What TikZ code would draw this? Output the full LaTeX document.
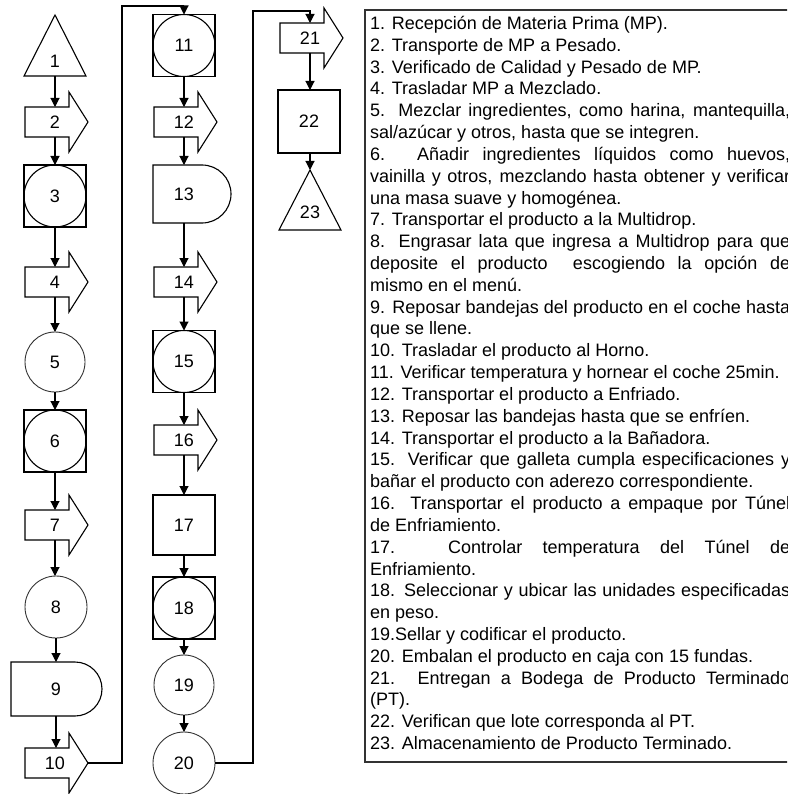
\documentclass[tikz,border=0pt]{standalone}
\usepackage{fontspec}
\setmainfont{Liberation Sans}
\usetikzlibrary{arrows.meta}
\tikzset{
  shp/.style={draw=black, line width=1.1pt},
  thinshp/.style={draw=black!80, line width=0.9pt},
  lbl/.style={font=\fontsize{18}{20}\selectfont, inner sep=0pt, outer sep=0pt},
  arr/.style={line width=1.1pt, -{Triangle[length=9pt,width=9pt]}},
  txt/.style={font=\fontsize{18}{21.8}\selectfont, inner sep=0pt, anchor=base west},
}
\newcommand\jl[1]{\makebox[420pt][s]{#1}}
\newcommand\bigarrow[4]{%
  \node[lbl,minimum width=44pt,minimum height=30pt] (#1) at (#2,#3) {#4};
  \draw[shp] (#2-30,#3-15) -- ++(44,0) -- ++(0,-15) -- ++(19,30) -- ++(-19,30) -- ++(0,-15) -- ++(-44,0) -- cycle;}
\newcommand\opsq[4]{%
  \node[lbl,shp,minimum size=62pt] (#1) at (#2,#3) {#4};
  \draw[shp] (#1.center) circle[radius=31pt];}
\newcommand\opcirc[5]{%
  \node[lbl,thinshp,circle,minimum size=#4] (#1) at (#2,#3) {#5};}
\begin{document}
\begin{tikzpicture}[x=1pt,y=-1pt]
\path[use as bounding box] (0,0) rectangle (787,794);
\clip (0,0) rectangle (787,794);

% ---------- column 1 ----------
\draw[shp] (55,15) -- (86,76) -- (24,76) -- cycle;
\node[lbl] (n1) at (55,61) {1};
\coordinate (n1s) at (55,76);
\bigarrow{n2}{55}{122}{2}
\opsq{n3}{55}{196}{3}
\bigarrow{n4}{55}{282}{4}
\opcirc{n5}{55}{362}{60pt}{5}
\opsq{n6}{55}{441}{6}
\bigarrow{n7}{55}{525}{7}
\opcirc{n8}{56}{607}{62pt}{8}
\node[lbl,minimum height=54pt] (n9) at (56,689) {9};
\draw[shp] (11,662) -- (75,662) .. controls (89.9,662) and (102,674.1) .. (102,689)
  .. controls (102,703.9) and (89.9,716) .. (75,716) -- (11,716) -- cycle;
\bigarrow{n10}{55}{763}{10}
\coordinate (n10tip) at (88,763);

% ---------- column 2 ----------
\opsq{n11}{184}{45.5}{11}
\bigarrow{n12}{184}{122}{12}
\node[lbl,minimum height=58pt] (n13) at (184,194) {13};
\draw[shp] (153,165) -- (202,165) .. controls (218,165) and (231,178) .. (231,194)
  .. controls (231,210) and (218,223) .. (202,223) -- (153,223) -- cycle;
\bigarrow{n14}{184}{282}{14}
\opsq{n15}{184}{361.5}{15}
\bigarrow{n16}{184}{440}{16}
\node[lbl,shp,minimum width=62pt,minimum height=60pt] (n17) at (184,525) {17};
\opsq{n18}{184}{608}{18}
\opcirc{n19}{184}{685}{60pt}{19}
\opcirc{n20}{184}{763}{62pt}{20}

% ---------- column 3 ----------
\bigarrow{n21}{310}{38}{21}
\node[lbl,shp,minimum width=62pt,minimum height=63pt] (n22) at (309,121.5) {22};
\draw[shp] (310,170) -- (341,230) -- (279,230) -- cycle;
\node[lbl] (n23) at (310,212) {23};
\coordinate (n23t) at (310,170);

% ---------- connectors ----------
\draw[arr] (n1s) -- (n2.north);
\draw[arr] (n2.south) -- (n3.north);
\draw[arr] (n3.south) -- (n4.north);
\draw[arr] (n4.south) -- (n5.north);
\draw[arr] (n5.south) -- (n6.north);
\draw[arr] (n6.south) -- (n7.north);
\draw[arr] (n7.south) -- (n7.south |- n8.north);
\draw[arr] (n8.south) -- (n8.south |- n9.north);
\draw[arr] (n9.south) -- (n9.south |- n10.north);
\coordinate (c1) at (122,6);
\draw[arr] (n10tip) -| (c1) -| (n11.north);
\draw[arr] (n11.south) -- (n12.north);
\draw[arr] (n12.south) -- (n13.north);
\draw[arr] (n13.south) -- (n14.north);
\draw[arr] (n14.south) -- (n15.north);
\draw[arr] (n15.south) -- (n16.north);
\draw[arr] (n16.south) -- (n17.north);
\draw[arr] (n17.south) -- (n18.north);
\draw[arr] (n18.south) -- (n19.north);
\draw[arr] (n19.south) -- (n20.north);
\coordinate (c2) at (253,11);
\draw[arr] (n20.east) -| (c2) -| (n21.north);
\draw[arr] (n21.south) -- (n21.south |- n22.north);
\draw[arr] (n22.south -| n23t) -- (n23t);

% ---------- legend ----------
\draw[line width=1.2pt, draw=black!80] (365,10) rectangle (810,762);
\foreach \s [count=\i] in {
 {1. Recepción de Materia Prima (MP).},
 {2. Transporte de MP a Pesado.},
 {3. Verificado de Calidad y Pesado de MP.},
 {4. Trasladar MP a Mezclado.},
 {\jl{5. Mezclar ingredientes, como harina, mantequilla,}},
 {sal/azúcar y otros, hasta que se integren.},
 {\jl{6. Añadir ingredientes líquidos como huevos,}},
 {\jl{vainilla y otros, mezclando hasta obtener y verificar}},
 {una masa suave y homogénea.},
 {7. Transportar el producto a la Multidrop.},
 {\jl{8. Engrasar lata que ingresa a Multidrop para que}},
 {\jl{deposite el producto\ \ escogiendo la opción de}},
 {mismo en el menú.},
 {\jl{9. Reposar bandejas del producto en el coche hasta}},
 {que se llene.},
 {10. Trasladar el producto al Horno.},
 {11. Verificar temperatura y hornear el coche 25min.},
 {12. Transportar el producto a Enfriado.},
 {13. Reposar las bandejas hasta que se enfríen.},
 {14. Transportar el producto a la Bañadora.},
 {\jl{15. Verificar que galleta cumpla especificaciones y}},
 {bañar el producto con aderezo correspondiente.},
 {\jl{16. Transportar el producto a empaque por Túnel}},
 {de Enfriamiento.},
 {\jl{17. Controlar temperatura del Túnel de}},
 {Enfriamiento.},
 {\jl{18. Seleccionar y ubicar las unidades especificadas}},
 {en peso.},
 {19.Sellar y codificar el producto.},
 {20. Embalan el producto en caja con 15 fundas.},
 {\jl{21. Entregan a Bodega de Producto Terminado}},
 {(PT).},
 {22. Verifican que lote corresponda al PT.},
 {23. Almacenamiento de Producto Terminado.}}
 \node[txt] (t\i) at (370,{29.5+21.82*(\i-1)}) {\s};
\end{tikzpicture}
\end{document}
